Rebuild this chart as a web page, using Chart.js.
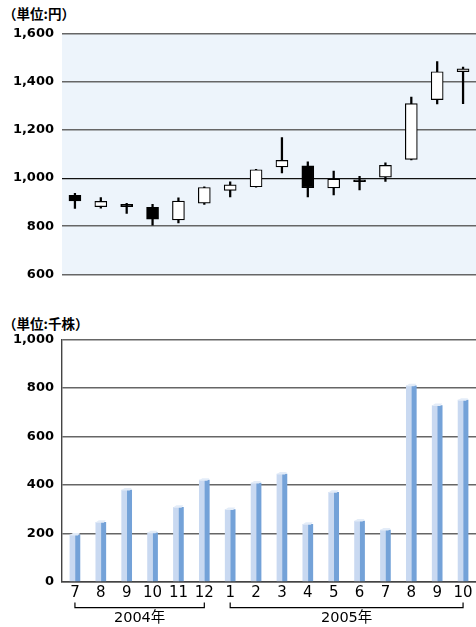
<!DOCTYPE html>
<html><head><meta charset="utf-8">
<script src="https://cdn.jsdelivr.net/npm/chart.js@4/dist/chart.umd.min.js"></script>
<style>
html,body{margin:0;padding:0;background:#fff;width:476px;height:627px;overflow:hidden;position:relative;}
canvas{position:absolute;left:0;}
.unit{position:absolute;left:3px;font-family:"Noto Sans CJK JP",sans-serif;font-weight:bold;font-size:13.5px;color:#000;line-height:15px;}
</style></head>
<body>
<div class="unit" style="top:6px;">（単位:円）</div>
<canvas id="price" width="476" height="290" style="top:0"></canvas>
<div class="unit" style="top:316px;">（単位:千株）</div>
<canvas id="vol" width="476" height="327" style="top:300px"></canvas>
<script>
const months = ['7','8','9','10','11','12','1','2','3','4','5','6','7','8','9','10'];
const openPrice  = [928, 881, 891, 878, 826, 896, 949, 964, 1047, 1051, 959, 993, 1004, 1078, 1327, 1443];
const closePrice = [905, 903, 881, 829, 904, 961, 972, 1035, 1074, 960, 996, 985, 1053, 1310, 1443, 1455];
const highPrice  = [937, 919, 895, 891, 918, 964, 985, 1037, 1169, 1068, 1029, 1007, 1064, 1337, 1485, 1462];
const lowPrice   = [874, 875, 853, 804, 813, 890, 922, 962, 1022, 922, 930, 951, 986, 1076, 1309, 1310];
const volume = [193, 245, 378, 202, 307, 419, 298, 407, 444, 237, 369, 250, 213, 808, 727, 749];
const yearGroups = [{label:'2004年', from:0, to:5}, {label:'2005年', from:6, to:15}];
const priceTicks = {min:600, max:1600, step:200};
const volTicks = {min:0, max:1000, step:200};

const tickFont = {family:'"DejaVu Sans", sans-serif', weight:'bold', size:13};

const bgPlugin = {
  id:'bg',
  beforeDraw(chart){
    const a = chart.chartArea, c = chart.ctx;
    c.save(); c.fillStyle = '#edf4fb';
    c.fillRect(a.left, a.top, a.right - a.left, a.bottom - a.top);
    c.restore();
  }
};

new Chart(document.getElementById('price'), {
  type:'bar',
  data:{
    labels: months,
    datasets:[
      {
        data: lowPrice.map((l,i)=>[l, highPrice[i]]),
        backgroundColor:'#000', borderWidth:0, barThickness:1.6,
        grouped:false, order:2
      },
      {
        data: openPrice.map((o,i)=>[o, closePrice[i]]),
        backgroundColor: openPrice.map((o,i)=> closePrice[i] < o ? '#000' : '#fff'),
        borderColor:'#000', borderWidth:1.2, borderSkipped:false,
        barThickness:12, grouped:false, order:1
      }
    ]
  },
  options:{
    responsive:false, animation:false, devicePixelRatio:1,
    layout:{padding:{top:34, bottom:13, left:0, right:0}},
    plugins:{legend:{display:false}, tooltip:{enabled:false}},
    scales:{
      x:{display:false, offset:true},
      y:{
        min:priceTicks.min, max:priceTicks.max,
        border:{display:false},
        grid:{drawTicks:false, color:(ctx)=> ctx.tick && ctx.tick.value===1000 ? '#111' : '#666', lineWidth:(ctx)=> ctx.tick && ctx.tick.value===1000 ? 1.2 : 1.4},
        ticks:{stepSize:priceTicks.step, padding:8, color:'#000', font:tickFont,
          callback:(v)=> Number(v).toLocaleString('en-US')},
        afterFit(s){ s.width = 62; }
      }
    }
  },
  plugins:[bgPlugin]
});

const capPlugin = {
  id:'caps',
  afterDatasetsDraw(chart){
    const c = chart.ctx;
    const light = chart.getDatasetMeta(0).data, dark = chart.getDatasetMeta(1).data;
    c.save();
    light.forEach((lb, i)=>{
      const db = dark[i];
      const lx = lb.x - lb.width/2, rx = db.x + db.width/2, y = lb.y;
      c.fillStyle = '#e3ecf8';
      c.beginPath();
      c.moveTo(lx, y); c.lineTo(lx+3, y-2); c.lineTo(rx, y-2); c.lineTo(rx-2, y+0.5); c.lineTo(lx, y+0.5);
      c.closePath(); c.fill();
    });
    c.restore();
  }
};

const bracketPlugin = {
  id:'brackets',
  afterDraw(chart){
    const c = chart.ctx, xs = chart.scales.x;
    c.save();
    c.strokeStyle = '#000'; c.lineWidth = 1.2;
    c.fillStyle = '#000';
    c.font = '14.5px "DejaVu Sans", "Noto Sans CJK JP", sans-serif';
    c.textAlign = 'center'; c.textBaseline = 'middle';
    yearGroups.forEach(g=>{
      const x1 = xs.getPixelForValue(g.from), x2 = xs.getPixelForValue(g.to);
      const yb = 607.7 - 300, yt = 602.5 - 300;
      c.beginPath();
      c.moveTo(x1, yt); c.lineTo(x1, yb); c.lineTo(x2, yb); c.lineTo(x2, yt);
      c.stroke();
      c.fillText(g.label, (x1+x2)/2, 618.5 - 300);
    });
    c.restore();
  }
};

new Chart(document.getElementById('vol'), {
  type:'bar',
  data:{
    labels: months,
    datasets:[
      {data: volume, backgroundColor:'#c9d9f1', borderWidth:0, barThickness:5},
      {data: volume, backgroundColor:'#74a2d8', borderWidth:0, barThickness:5}
    ]
  },
  options:{
    responsive:false, animation:false, devicePixelRatio:1,
    layout:{padding:{top:39.3, bottom:0, left:0, right:0}},
    plugins:{legend:{display:false}, tooltip:{enabled:false}},
    scales:{
      x:{
        offset:true,
        border:{display:true, color:'#444', width:1.4},
        grid:{display:false, drawTicks:false},
        ticks:{padding:2, color:'#000', font:{family:'"DejaVu Sans", sans-serif', size:15}, maxRotation:0, autoSkip:false},
        afterFit(s){ s.height = 45.3; }
      },
      y:{
        min:volTicks.min, max:volTicks.max,
        border:{display:true, color:'#444', width:1.4},
        grid:{drawTicks:false, color:'#666', lineWidth:1.4},
        ticks:{stepSize:volTicks.step, padding:8, color:'#000', font:tickFont},
        afterFit(s){ s.width = 62; }
      }
    }
  },
  plugins:[capPlugin, bracketPlugin]
});
</script>
</body></html>
